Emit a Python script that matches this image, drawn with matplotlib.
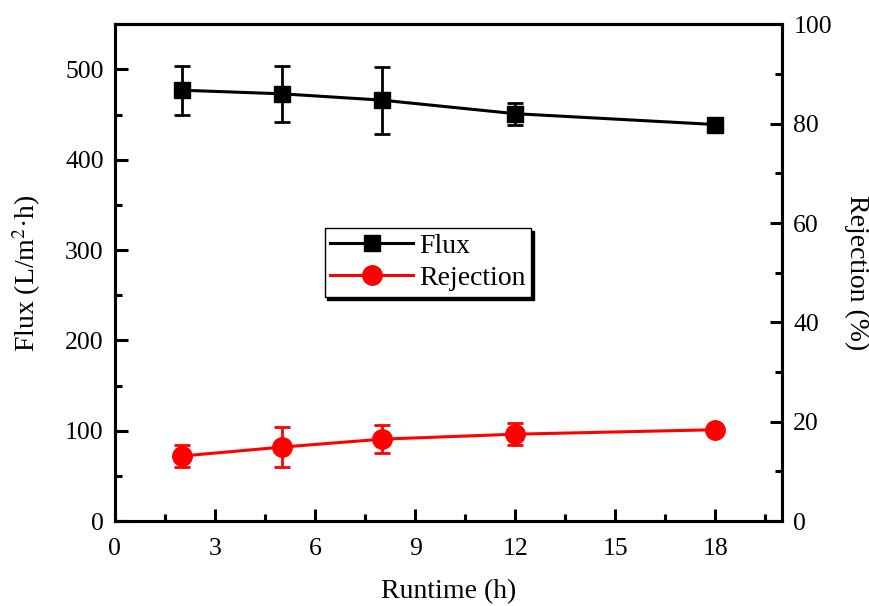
import matplotlib
matplotlib.use('Agg')
import matplotlib.pyplot as plt
from matplotlib.ticker import MultipleLocator
from matplotlib.lines import Line2D

plt.rcParams['font.family'] = ['Liberation Serif', 'DejaVu Serif']
plt.rcParams['mathtext.fontset'] = 'stix'

# data
runtime = [2, 5, 8, 12, 18]
flux = [477, 473, 466, 451, 439]
flux_err = [27, 31, 37, 12, 3]
rejection = [13.1, 14.9, 16.5, 17.5, 18.4]
rejection_err = [2.2, 4.0, 2.8, 2.2, 0.5]

fig = plt.figure(figsize=(8.7, 6.06), dpi=100)
ax = fig.add_axes([0.132, 0.140, 0.767, 0.820])
ax2 = ax.twinx()

ax.errorbar(runtime, flux, yerr=flux_err, color='black', marker='s',
            markersize=12, linewidth=2.2, elinewidth=2, capsize=6,
            capthick=2)
ax2.errorbar(runtime, rejection, yerr=rejection_err, color='red',
             marker='o', markersize=14, linewidth=2.2, elinewidth=2,
             capsize=6, capthick=2)

ax.set_xlim(0, 20)
ax.set_ylim(0, 550)
ax2.set_ylim(0, 100)
ax.xaxis.set_major_locator(MultipleLocator(3))
ax.xaxis.set_minor_locator(MultipleLocator(1.5))
ax.yaxis.set_major_locator(MultipleLocator(100))
ax.yaxis.set_minor_locator(MultipleLocator(50))
ax2.yaxis.set_major_locator(MultipleLocator(20))
ax2.yaxis.set_minor_locator(MultipleLocator(10))

for a in (ax, ax2):
    a.tick_params(which='major', direction='in', length=9, width=2.2,
                  labelsize=18.5, pad=8)
    a.tick_params(which='minor', direction='in', length=5, width=2.2)
    for s in a.spines.values():
        s.set_linewidth(2.2)
ax.tick_params(top=False, right=False, which='both')
ax.tick_params(axis='x', which='major', pad=12)

ax.set_xlabel('Runtime (h)', fontsize=20, labelpad=14)
ax.set_ylabel('Flux (L/m$^2$·h)', fontsize=20, labelpad=16)
ax2.set_ylabel('Rejection (%)', fontsize=20, rotation=270, labelpad=27)

handles = [Line2D([], [], color='black', marker='s', markersize=12, linewidth=2.2),
           Line2D([], [], color='red', marker='o', markersize=14, linewidth=2.2)]
leg = ax.legend(handles, ['Flux', 'Rejection'], loc='center',
                bbox_to_anchor=(0.469, 0.521), fontsize=20, frameon=True,
                shadow={'color': 'black', 'alpha': 1}, fancybox=False,
                edgecolor='black', handlelength=3.0, borderpad=0.2,
                labelspacing=0.25, handletextpad=0.2, borderaxespad=0)
leg.get_frame().set_linewidth(1)

fig.savefig('out.png', dpi=100)
